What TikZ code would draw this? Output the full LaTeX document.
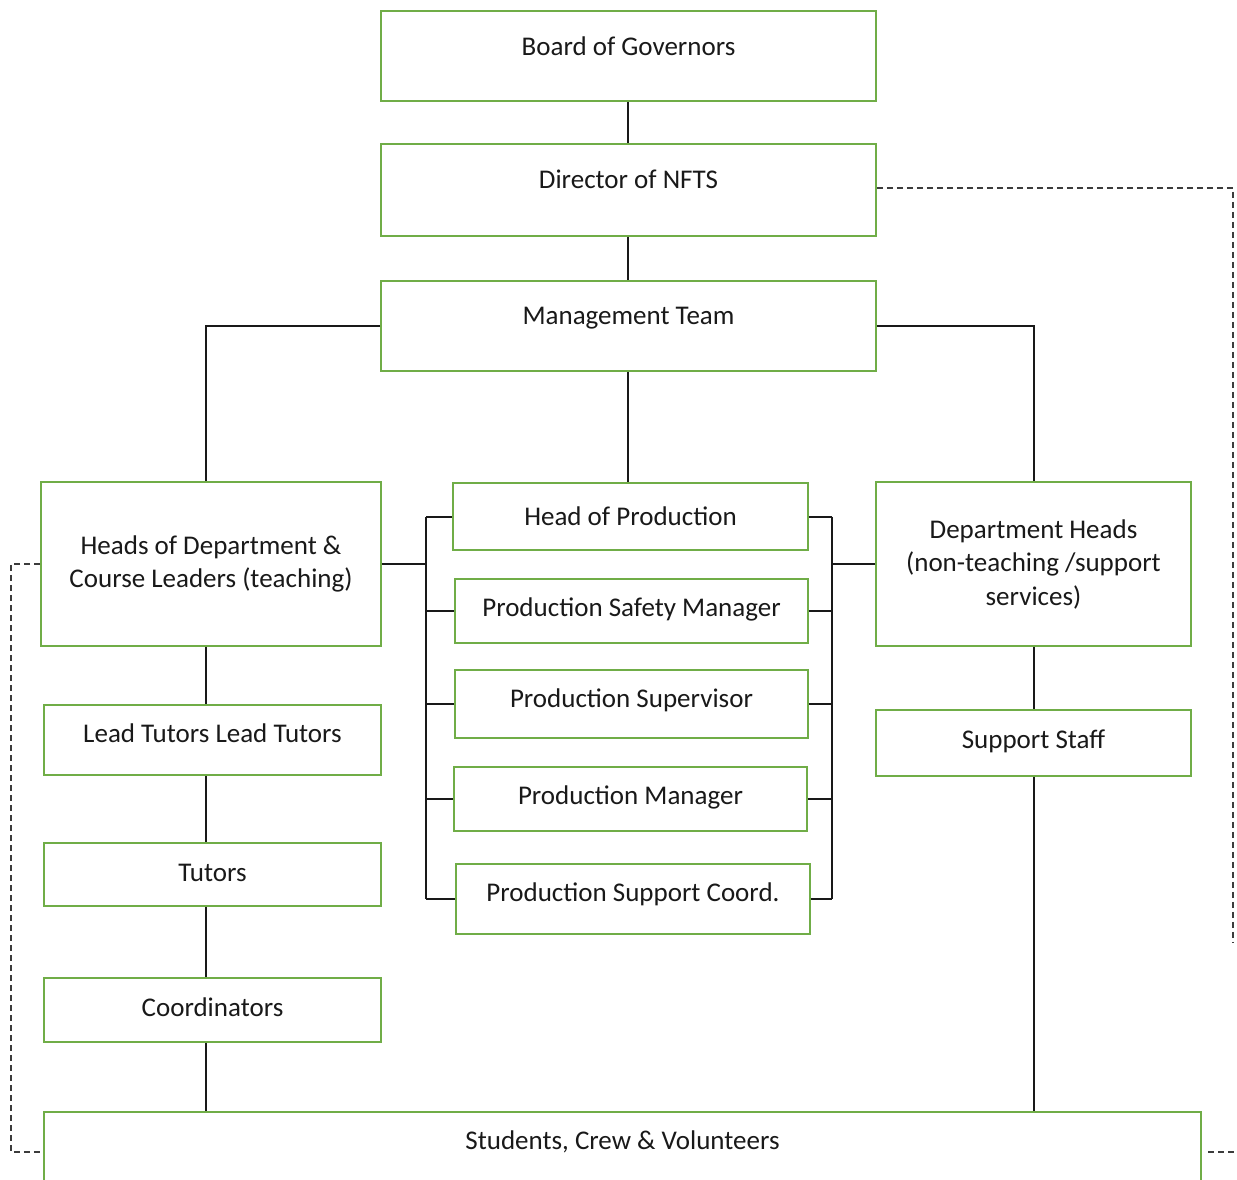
\documentclass[tikz,border=0pt]{standalone}
\usepackage{fontspec}
\setmainfont{Carlito}
\definecolor{boxgreen}{RGB}{112,173,71}
\definecolor{linkgrey}{RGB}{60,60,60}
\tikzset{
  box/.style={draw=boxgreen, line width=1.8pt, fill=white, align=center, inner sep=4pt,
    font=\fontsize{27pt}{33.5pt}\selectfont, text=black!90},
  lift/.style={text height=24pt, text depth=6pt+2*#1},
  link/.style={line width=2pt, black!90},
  dotlink/.style={line width=1.6pt, linkgrey, dash pattern=on 6pt off 4pt},
}

\begin{document}
\begin{tikzpicture}[x=1pt, y=-1pt]
  \clip (0,0) rectangle (1237,1180);
  \fill[white] (0,0) rectangle (1237,1180);

  % top of the tree
  \node[box, lift=9pt, minimum width=495pt, minimum height=90pt] (board) at (628.5,56) {Board of Governors};
  \node[box, lift=10pt, minimum width=495pt, minimum height=92pt] (dir) at (628.5,190) {Director of NFTS};
  \node[box, lift=11pt, minimum width=495pt, minimum height=90pt] (mgmt) at (628.5,326) {Management Team};

  % teaching side
  \node[box, minimum width=340pt, minimum height=164pt] (heads) at (211,564) {Heads of Department \&\\Course Leaders (teaching)};
  \node[box, lift=7pt, minimum width=337pt, minimum height=70pt] (lead) at (212.5,740) {Lead Tutors Lead Tutors};
  \node[box, lift=2.5pt, minimum width=337pt, minimum height=63pt] (tutors) at (212.5,874.5) {Tutors};
  \node[box, lift=3pt, minimum width=337pt, minimum height=64pt] (coord) at (212.5,1010) {Coordinators};

  % production
  \node[box, minimum width=355pt, minimum height=67pt] (hop) at (630.5,516.5) {Head of Production};
  \node[box, lift=4pt, minimum width=353pt, minimum height=64pt] (psm) at (631.5,611) {Production Safety Manager};
  \node[box, lift=6pt, minimum width=353pt, minimum height=68pt] (psv) at (631.5,704) {Production Supervisor};
  \node[box, lift=4pt, minimum width=353pt, minimum height=64pt] (pm) at (630.5,799) {Production Manager};
  \node[box, lift=7pt, minimum width=354pt, minimum height=70pt] (psc) at (633,899) {Production Support Coord.};

  % support side
  \node[box, minimum width=315pt, minimum height=164pt] (depth) at (1033.5,564) {Department Heads\\(non-teaching /support\\services)};
  \node[box, lift=4pt, minimum width=315pt, minimum height=66pt] (staff) at (1033.5,743) {Support Staff};

  \node[box, lift=12pt, minimum width=1157pt, minimum height=80pt] (stud) at (622.5,1152) {Students, Crew \& Volunteers};

  \coordinate (lspine) at (206,0);
  \coordinate (mspine) at (628,0);
  \coordinate (lbus) at (426,0);
  \coordinate (rbus) at (832,0);

  \draw[link] (board.south -| mspine) -- (dir.north -| mspine);
  \draw[link] (dir.south -| mspine) -- (mgmt.north -| mspine);
  \draw[link] (mgmt.south -| mspine) -- (hop.north -| mspine);
  \draw[link] (mgmt.west) -| (heads.north -| lspine);
  \draw[link] (mgmt.east) -| (depth.north);
  \draw[link] (heads.south -| lspine) -- (lead.north -| lspine);
  \draw[link] (lead.south -| lspine) -- (tutors.north -| lspine);
  \draw[link] (tutors.south -| lspine) -- (coord.north -| lspine);
  \draw[link] (coord.south -| lspine) -- (stud.north -| lspine);
  \draw[link] (depth) -- (staff);
  \draw[link] (staff.south) -- (staff.south |- stud.north);

  % production buses
  \draw[link] (heads.east) -- (heads.east -| lbus);
  \draw[link] (depth.west) -- (depth.west -| rbus);
  \draw[link] (hop.west -| lbus) -- (psc.west -| lbus);
  \draw[link] (hop.east -| rbus) -- (psc.east -| rbus);
  \foreach \n in {hop,psm,psv,pm,psc} {
    \draw[link] (\n.west) -- (\n.west -| lbus);
    \draw[link] (\n.east) -- (\n.east -| rbus);
  }

  % dashed reporting lines
  \coordinate (rtop) at (1233,188);
  \coordinate (rend) at (1233,943);
  \coordinate (ltop) at (11,564);
  \coordinate (lbot) at (11,1152);
  \coordinate (rs1) at (1208,1152);
  \coordinate (rs2) at (1237,1152);
  \draw[dotlink] (dir.east |- rtop) -- (rtop) -- (rend);
  \draw[dotlink] (heads.west) -- (ltop) -- (lbot) -- (stud.west);
  \draw[dotlink] (rs1) -- (rs2);
\end{tikzpicture}
\end{document}
